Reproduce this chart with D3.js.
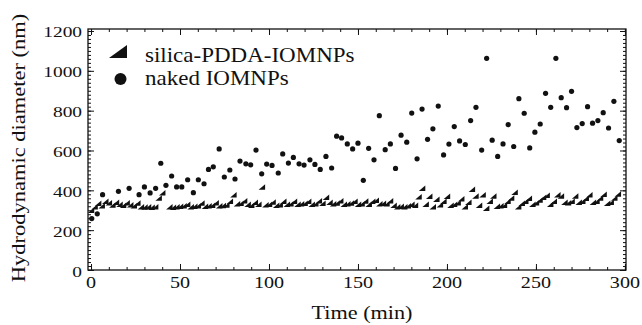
<!DOCTYPE html>
<html>
<head>
<meta charset="utf-8">
<script src="https://cdn.jsdelivr.net/npm/d3@7"></script>
<style>
  html, body { margin: 0; padding: 0; background: #ffffff; }
  svg { display: block; }
  text { font-family: "Liberation Serif", "Times New Roman", serif; fill: #111; }
</style>
</head>
<body>
<svg id="chart" width="642" height="325"></svg>
<script>
// ---- data ----
const xTickLabels = [0, 50, 100, 150, 200, 250, 300];
const yTickLabels = [0, 200, 400, 600, 800, 1000, 1200];
const seriesNames = ["silica-PDDA-IOMNPs", "naked IOMNPs"];

const nakedTime = [0.4, 3.5, 6.5, 15.4, 21.4, 27, 30, 33.2, 36.3, 39.2, 42.1, 45.3, 48.1, 51, 54.3, 57.5, 60.3, 63.5, 66, 68.7,
  72, 74.9, 78, 80.9, 83.7, 87, 89.7, 92.7, 95.9, 98.7, 101.7, 105.2, 107.7, 110.9, 113.7, 116.9, 119.7, 123, 125.8, 128.8,
  132, 135.2, 138, 140.8, 144, 147, 150, 153, 156, 159, 162, 165.3, 168.2, 171.1, 174.2, 177.4, 180.2, 183.2, 186, 189.1,
  192.1, 195.1, 198.1, 201.1, 204.1, 207.1, 210.3, 213.3, 216.3, 219.5, 222.3, 225.4, 228.5, 231.5, 234.4, 237.5, 240.4, 243.4, 246.5, 249.4,
  252.4, 255.4, 258.3, 261.2, 264.2, 267.2, 270, 273, 276, 279, 281.8, 284.8, 287.8, 290.8, 293.8, 296.8];
const nakedDiameter = [258, 282, 378, 395, 410, 378, 417, 387, 410, 536, 425, 472, 417, 417, 453, 388, 453, 433, 505, 518,
  608, 467, 502, 457, 547, 533, 528, 602, 483, 532, 525, 487, 583, 537, 565, 533, 527, 553, 530, 505,
  570, 512, 672, 663, 633, 608, 637, 450, 611, 553, 775, 604, 633, 510, 677, 642, 788, 558, 808, 656,
  709, 823, 578, 632, 720, 648, 630, 750, 817, 602, 1063, 652, 570, 633, 730, 620, 860, 787, 613, 692,
  733, 887, 817, 1063, 865, 815, 897, 715, 735, 820, 737, 750, 790, 713, 847, 650];

const silicaTime = [0, 2, 4, 6, 8, 10, 12, 14, 16, 18, 20, 22, 24, 26, 28, 30, 32, 34, 36, 38, 40,
  44, 46, 48, 50, 52, 54, 56, 58, 60, 62, 64, 66, 68, 70, 72, 74, 76, 78, 80, 82, 84, 86, 88, 90, 92, 94, 96, 98,
  100, 102, 104, 106, 108, 110, 112, 114, 116, 118, 120, 122, 124, 126, 128, 130, 132, 134, 136, 138, 140, 142, 144, 146, 148,
  150, 152, 154, 156, 158, 160, 162, 164, 166, 168, 170, 172, 174, 176, 178, 180, 182, 184, 186, 188, 190, 192, 194, 196, 198,
  200, 202, 204, 206, 208, 210, 212, 214, 216, 218, 220, 222, 224, 226, 228, 230, 232, 234, 236, 238, 240, 242, 244, 246, 248,
  250, 252, 254, 256, 258, 260, 262, 264, 266, 268, 270, 272, 274, 276, 278, 280, 282, 284, 286, 288, 290, 292, 294, 296];
const silicaDiameter = [300, 318, 335, 322, 345, 338, 326, 340, 330, 325, 338, 328, 322, 336, 318, 316, 318, 315, 318, 362, 388,
  318, 315, 318, 320, 322, 330, 318, 320, 322, 336, 320, 322, 325, 338, 322, 324, 326, 345, 378, 332, 335, 348, 330, 325, 340, 330, 417, 328,
  330, 342, 325, 328, 345, 330, 332, 345, 330, 332, 335, 345, 330, 333, 348, 335, 365, 340, 332, 336, 348, 330, 332, 336, 345,
  330, 333, 346, 330, 345, 350, 332, 335, 333, 348, 325, 318, 320, 318, 322, 330, 325, 368, 410, 330, 370, 318, 355, 328, 345,
  370, 325, 330, 338, 358, 318, 340, 405, 372, 325, 378, 310, 345, 372, 320, 322, 325, 345, 362, 390, 318, 335, 345, 360, 330,
  338, 352, 365, 375, 330, 345, 378, 372, 340, 338, 345, 372, 340, 345, 360, 378, 340, 345, 362, 380, 335, 340, 362, 382];

// ---- layout ----
const svg = d3.select("#chart");
const L = 88, R = 626, T = 29, B = 270;
const x = d3.scaleLinear().domain([-1.7, 300.6]).range([L, R]);
const y = d3.scaleLinear().domain([0, 1210]).range([B, T]);
const ink = "#111";

// frame
svg.append("rect").attr("x", L).attr("y", T).attr("width", R - L).attr("height", B - T)
  .attr("fill", "none").attr("stroke", ink).attr("stroke-width", 1.3);

// ticks (inward) via d3 axes
const xMinor = d3.range(0, 301, 10);
const yMinor = d3.range(0, 1201, 20);
function styleAxis(g) {
  g.select(".domain").remove();
  g.selectAll("line").attr("stroke", ink).attr("stroke-width", 1);
  g.selectAll("text").remove();
}
svg.append("g").attr("transform", `translate(0,${B})`)
  .call(d3.axisBottom(x).tickValues(xMinor).tickSize(-3)).call(styleAxis);
svg.append("g").attr("transform", `translate(0,${B})`)
  .call(d3.axisBottom(x).tickValues(xTickLabels).tickSize(-6)).call(styleAxis);
svg.append("g").attr("transform", `translate(0,${T})`)
  .call(d3.axisTop(x).tickValues(xMinor).tickSize(-3)).call(styleAxis);
svg.append("g").attr("transform", `translate(0,${T})`)
  .call(d3.axisTop(x).tickValues(xTickLabels).tickSize(-6)).call(styleAxis);
svg.append("g").attr("transform", `translate(${L},0)`)
  .call(d3.axisLeft(y).tickValues(yMinor).tickSize(-3)).call(styleAxis);
svg.append("g").attr("transform", `translate(${L},0)`)
  .call(d3.axisLeft(y).tickValues(yTickLabels).tickSize(-6)).call(styleAxis);
svg.append("g").attr("transform", `translate(${R},0)`)
  .call(d3.axisRight(y).tickValues(yMinor).tickSize(-3)).call(styleAxis);
svg.append("g").attr("transform", `translate(${R},0)`)
  .call(d3.axisRight(y).tickValues(yTickLabels).tickSize(-6)).call(styleAxis);

// tick labels (wide serif look: horizontally stretched Times)
svg.append("g").selectAll("text").data(xTickLabels).join("text")
  .attr("transform", d => `translate(${x(d)},288) scale(1.15,1)`)
  .attr("text-anchor", "middle").attr("font-size", 17.5).text(d => d);
svg.append("g").selectAll("text").data(yTickLabels).join("text")
  .attr("transform", d => `translate(82,${y(d) + 6.5}) scale(1.25,1)`)
  .attr("text-anchor", "end").attr("font-size", 15.5).text(d => d);

// axis titles
svg.append("text").attr("transform", "translate(362,319) scale(1.17,1)")
  .attr("text-anchor", "middle").attr("font-size", 19).text("Time (min)");
svg.append("text").attr("transform", "translate(25,148) rotate(-90) scale(1.25,1)")
  .attr("text-anchor", "middle").attr("font-size", 18).text("Hydrodynamic diameter (nm)");

// markers
function tri(w, h) {
  return `M${-w / 2},${h / 2}L${w / 2},${h / 2}L${w / 2},${-h / 2}Z`;
}
const silica = silicaTime.map((t, i) => ({ t, v: silicaDiameter[i] }));
const naked = nakedTime.map((t, i) => ({ t, v: nakedDiameter[i] }));

svg.append("g").selectAll("path").data(silica).join("path")
  .attr("d", tri(6.5, 5.5))
  .attr("transform", d => `translate(${x(d.t)},${y(d.v)})`)
  .attr("fill", ink);
svg.append("g").selectAll("circle").data(naked).join("circle")
  .attr("cx", d => x(d.t)).attr("cy", d => y(d.v)).attr("r", 2.6)
  .attr("fill", ink);

// legend
svg.append("path").attr("d", tri(18, 13)).attr("transform", "translate(118,51.5)").attr("fill", ink);
svg.append("circle").attr("cx", 120.5).attr("cy", 79).attr("r", 6).attr("fill", ink);
svg.append("text").attr("transform", "translate(145,61.5) scale(1.15,1)")
  .attr("font-size", 20).text(seriesNames[0]);
svg.append("text").attr("transform", "translate(145,85) scale(1.15,1)")
  .attr("font-size", 20).text(seriesNames[1]);
</script>
</body>
</html>
